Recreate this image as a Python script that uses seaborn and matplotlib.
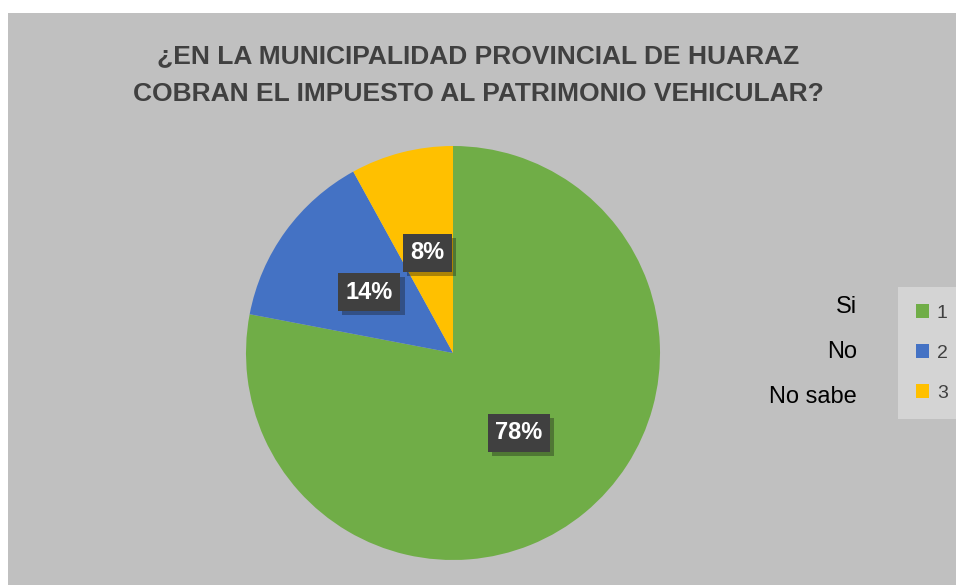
import matplotlib
matplotlib.use("Agg")
import matplotlib.pyplot as plt
import matplotlib.font_manager as fm
import matplotlib.patheffects as pe
from matplotlib.patches import Rectangle
import seaborn as sns

# data
categories = ["Si", "No", "No sabe"]
codes = ["1", "2", "3"]
percentages = [78, 14, 8]
colors = ["#70ad47", "#4472c4", "#ffc000"]

title = "¿EN LA MUNICIPALIDAD PROVINCIAL DE HUARAZ\nCOBRAN EL IMPUESTO AL PATRIMONIO VEHICULAR?"

sns.set_style("white")
installed = {f.name for f in fm.fontManager.ttflist}
narrow = "Liberation Sans Narrow" if "Liberation Sans Narrow" in installed else "Liberation Sans"
plt.rcParams["font.family"] = ["Liberation Sans", "DejaVu Sans"]

W, H = 956, 585
fig = plt.figure(figsize=(W / 100, H / 100), dpi=100, facecolor="white")
fig.patches.append(Rectangle((8 / W, 0), 1, 1 - 13 / H, transform=fig.transFigure,
                             facecolor="#c0c0c0", edgecolor="none", zorder=-5))

# pie axes: centre (453, 353) px, radius 207 px
cx, cy, r = 453, 353, 207
ax = fig.add_axes([(cx - r) / W, (H - cy - r) / H, 2 * r / W, 2 * r / H])
ax.set_facecolor("none")

wedges, _, autotexts = ax.pie(
    percentages, colors=sns.color_palette(colors), startangle=90, counterclock=False,
    autopct="%1.0f%%", pctdistance=0.5,
    textprops=dict(color="white", fontsize=17, fontweight="bold"),
    wedgeprops=dict(linewidth=0),
)
for t in autotexts:
    t.set_bbox(dict(boxstyle="square,pad=0.32", facecolor="#404040", edgecolor="none"))
    t.get_bbox_patch().set_path_effects(
        [pe.SimplePatchShadow(offset=(3, -3), alpha=0.35), pe.Normal()])
ax.set_xlim(-1, 1)
ax.set_ylim(-1, 1)
ax.axis("off")

fig.text(0.5, (H - 75) / H, title, ha="center", va="center", fontsize=19,
         fontweight="bold", color="#404040", family=[narrow, "DejaVu Sans"],
         linespacing=1.75)

# legend with numeric codes
leg = fig.legend(wedges, codes, loc="center left",
                 bbox_to_anchor=(898 / W, (H - 353) / H),
                 frameon=True, facecolor="#d4d4d4", edgecolor="none", framealpha=1,
                 fancybox=False, fontsize=14, labelcolor="#404040",
                 handlelength=0.7, handleheight=0.7, handletextpad=0.4,
                 labelspacing=1.15, borderpad=0.9, borderaxespad=0)

# category names beside the legend
for i, name in enumerate(categories):
    fig.text(857 / W, (H - 307 - 45 * i) / H, name, ha="right", va="center",
             fontsize=17, color="black")

fig.savefig("out.png", dpi=100, facecolor=fig.get_facecolor())
